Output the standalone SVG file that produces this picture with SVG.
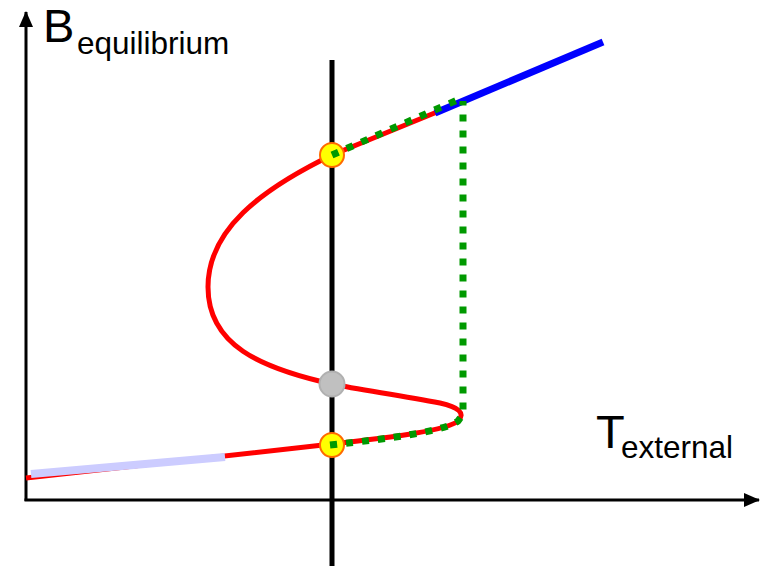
<svg xmlns="http://www.w3.org/2000/svg" width="763" height="566" viewBox="0 0 763 566">
<defs>
<style>
.axis{stroke:#000;stroke-width:3;fill:none}
.lbl{font-family:"Liberation Sans",Arial,sans-serif;fill:#000}
.red{stroke:#ff0000;stroke-width:5;fill:none;stroke-linecap:butt}
.dots{stroke:#009900;stroke-width:7;fill:none;stroke-dasharray:7 9}
</style>
<marker id="arr" viewBox="0 0 16 14" refX="15" refY="7" markerWidth="16" markerHeight="14" markerUnits="userSpaceOnUse" orient="auto">
<path d="M0,0 L16,7 L0,14 z" fill="#000"/>
</marker>
</defs>
<rect width="763" height="566" fill="#fff"/>
<g id="axes">
<path class="axis" d="M26,501 L26,12" marker-end="url(#arr)"/>
<path class="axis" d="M24.5,500 L759,500" marker-end="url(#arr)"/>
</g>
<g id="labels">
<text class="lbl" x="43" y="42" font-size="47">B</text>
<text class="lbl" x="77" y="54" font-size="31.5">equilibrium</text>
<text class="lbl" x="596" y="448" font-size="47">T</text>
<text class="lbl" x="621" y="458" font-size="31.5">external</text>
</g>
<g id="connectors">
<path d="M332,60 L332,566" stroke="#000" stroke-width="5" fill="none"/>
<path class="red" d="M26,478 L332,444 C395,437 448,430 458,421 C466,413 458,407 440,403 C400,395 360,390 332,384 C260,368 208,345 208,287 C208,230 260,190 332,155 L437,112"/>
<path d="M31,474 L225,457" stroke="#ccccff" stroke-width="8" fill="none"/>
<path d="M435,113 L603,42" stroke="#0000ff" stroke-width="7" fill="none"/>
</g>
<g id="node-upper">
<circle cx="332" cy="155" r="12" fill="#ffff00" stroke="#ff6a00" stroke-width="2"/>
</g>
<g id="node-middle">
<circle cx="332" cy="384" r="12.5" fill="#c0c0c0" stroke="#b0b0b0" stroke-width="2"/>
</g>
<g id="node-lower">
<circle cx="332" cy="445" r="12" fill="#ffff00" stroke="#ff6a00" stroke-width="2"/>
</g>
<g id="hysteresis">
<path class="dots" d="M330,445 C395,438 445,431 458,421 L463,414 L463,101"/>
<path class="dots" d="M332,155 L462,98"/>
</g>
</svg>
